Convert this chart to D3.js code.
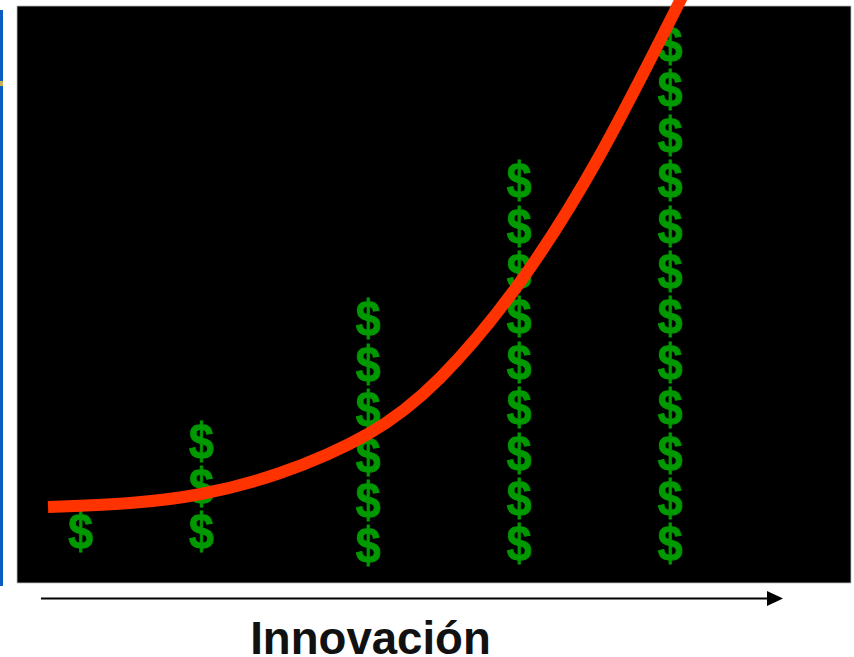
<!DOCTYPE html>
<html>
<head>
<meta charset="utf-8">
<script src="https://cdn.jsdelivr.net/npm/d3@7"></script>
<style>
html, body { margin: 0; padding: 0; background: #fff; overflow: hidden; }
svg { display: block; }
</style>
</head>
<body>
<svg id="chart" width="854" height="657"></svg>
<script>
// Number of dollar signs stacked at each stage of innovation
const stages = [63.7, 184.3, 351, 502, 653];
const dollarCounts = [1, 3, 6, 9, 12];
const columnBase = [52, 52, 38, 40, 40];

// Return curve: [innovation, return]
const curveInnovation = [31, 113, 184, 263, 351, 423, 501, 583, 669];
const curveReturn = [76, 80, 89, 110, 149, 205, 298, 428, 594];

const axisTitle = "Innovación";
const dollarStep = 45.4;

const svg = d3.select("#chart");
const plot = { left: 17, top: 6, right: 851, bottom: 583 };

const x = d3.scaleLinear().domain([0, 834]).range([plot.left, plot.right]);
const y = d3.scaleLinear().domain([0, 577]).range([plot.bottom, plot.top]);

// Blue edge strip on the left
svg.append("rect").attr("x", 0).attr("y", 10).attr("width", 3).attr("height", 576).attr("fill", "#0a5cc0");
svg.append("rect").attr("x", 0).attr("y", 81).attr("width", 3).attr("height", 5).attr("fill", "#c9b35a");

// Plot background
svg.append("rect")
  .attr("x", plot.left).attr("y", plot.top)
  .attr("width", plot.right - plot.left).attr("height", plot.bottom - plot.top)
  .attr("fill", "#000").attr("stroke", "#bdbdbd").attr("stroke-width", 0.8);

// Dollar columns
const dollars = stages.flatMap((s, i) =>
  d3.range(dollarCounts[i]).map(k => ({ x: s, y: columnBase[i] + k * dollarStep })));

svg.append("g").selectAll("text").data(dollars).join("text")
  .attr("transform", d => `translate(${x(d.x)},${y(d.y)}) scale(0.89,1)`)
  .attr("text-anchor", "middle")
  .attr("dominant-baseline", "central")
  .attr("font-family", "Liberation Sans")
  .attr("font-weight", "bold")
  .attr("font-size", 50)
  .attr("fill", "#009900")
  .attr("stroke", "#009900")
  .attr("stroke-width", 0.9)
  .text("$");

// Return curve, running off the top of the page
const line = d3.line()
  .x(d => x(d))
  .y((d, i) => y(curveReturn[i]))
  .curve(d3.curveNatural);

svg.append("path")
  .attr("d", line(curveInnovation))
  .attr("fill", "none")
  .attr("stroke", "#ff3300")
  .attr("stroke-width", 12);

// Arrow under the plot
svg.append("line")
  .attr("x1", 41).attr("x2", 770).attr("y1", 598.5).attr("y2", 598.5)
  .attr("stroke", "#000").attr("stroke-width", 2);
svg.append("path")
  .attr("d", d3.line()([[767, 591], [783, 598.5], [767, 606]]))
  .attr("fill", "#000");

// Axis title
svg.append("text")
  .attr("x", 370.5).attr("y", 654)
  .attr("text-anchor", "middle")
  .attr("font-family", "Liberation Sans")
  .attr("font-weight", "bold")
  .attr("font-size", 45.6)
  .attr("fill", "#111")
  .text(axisTitle);
</script>
</body>
</html>
